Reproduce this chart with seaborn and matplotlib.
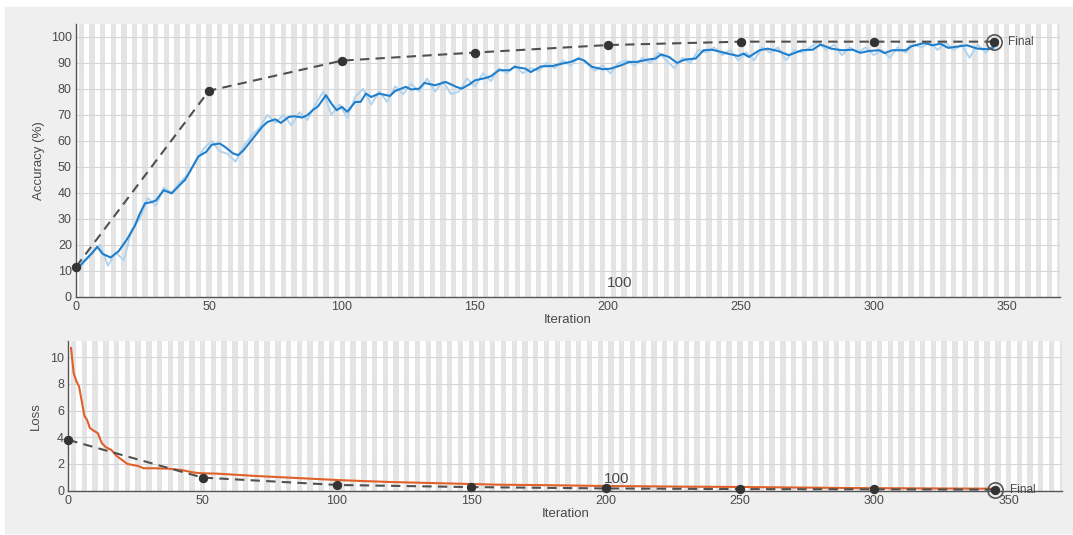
import matplotlib
matplotlib.use("Agg")
import matplotlib.pyplot as plt
import seaborn as sns
from matplotlib.patches import Rectangle

# training accuracy, smoothed curve
acc_iter = [0, 3, 6, 8, 10, 13, 16, 19, 22, 24,
            26, 28, 30, 33, 36, 39, 41, 43, 46, 49,
            51, 54, 56, 59, 61, 63, 66, 68, 70, 72,
            75, 77, 80, 82, 85, 87, 89, 91, 94, 96,
            98, 100, 102, 105, 107, 109, 111, 114, 118, 120,
            124, 126, 129, 131, 135, 139, 143, 145, 148, 150,
            154, 156, 159, 163, 165, 169, 171, 175, 179, 183,
            186, 189, 191, 194, 198, 201, 205, 208, 211, 215,
            218, 220, 223, 226, 229, 233, 236, 239, 242, 245,
            249, 251, 253, 257, 260, 264, 268, 273, 277, 280,
            284, 288, 292, 295, 298, 302, 304, 307, 312, 314,
            319, 322, 325, 328, 332, 335, 339, 343, 345]
acc_smooth = [10.3, 13.5, 16.7, 19.2, 16.5, 15.1, 17.5, 21.8, 27.0, 32.0,
              36.0, 36.3, 37.0, 41.0, 39.8, 43.0, 45.0, 48.5, 54.0, 55.8,
              58.5, 59.0, 57.7, 55.2, 54.5, 56.4, 60.3, 62.8, 65.4, 67.3,
              68.3, 66.9, 69.2, 69.5, 69.0, 69.9, 71.8, 73.3, 77.6, 74.4,
              71.8, 73.1, 71.2, 75.0, 75.0, 78.2, 76.9, 78.2, 77.3, 79.2,
              80.8, 79.8, 80.1, 82.3, 81.4, 82.7, 80.8, 80.1, 81.8, 83.3,
              84.2, 84.9, 87.2, 87.2, 88.5, 87.8, 86.5, 88.7, 88.8, 89.8,
              90.4, 91.7, 91.0, 88.5, 87.6, 87.8, 89.1, 90.4, 90.4, 91.3,
              91.7, 93.3, 92.3, 90.0, 91.3, 91.7, 94.9, 95.1, 94.4, 93.6,
              92.7, 93.6, 92.3, 94.9, 95.5, 94.6, 93.0, 94.9, 95.1, 97.1,
              95.5, 94.9, 95.1, 93.9, 94.6, 94.9, 93.8, 94.9, 94.9, 96.4,
              97.7, 96.8, 97.4, 95.8, 96.4, 96.8, 95.5, 95.3, 95.9]

# training accuracy, raw (every 3rd iteration)
raw_iter = list(range(0, 346, 3))
acc_raw = [9, 14, 17, 20, 12, 17, 14, 26, 30, 38,
           35, 42, 40, 44, 47, 52, 57, 60, 56, 55,
           52, 58, 62, 65, 70, 67, 70, 66, 71, 68,
           74, 79, 70, 74, 69, 77, 80, 74, 79, 75,
           81, 78, 82, 79, 84, 79, 83, 78, 79, 84,
           81, 86, 83, 88, 86, 89, 86, 88, 87, 90,
           88, 91, 89, 92, 90, 87, 89, 86, 90, 91,
           89, 92, 90, 94, 91, 88, 92, 90, 95, 94,
           96, 93, 95, 91, 94, 91, 96, 94, 96, 91,
           95, 94, 96, 98, 95, 97, 93, 96, 94, 96,
           93, 95, 92, 96, 94, 97, 96, 98, 95, 98,
           95, 97, 92, 97, 94, 97]

# training loss, smoothed
loss_iter = [1, 2, 3, 4, 5, 6, 7, 8, 9, 11, 12.5, 14, 16, 18, 20, 22,
             26, 28, 32, 37, 42, 47, 50, 55, 60, 70, 80, 90, 100,
             110, 120, 130, 140, 150, 160, 175, 190, 200, 215, 230,
             250, 270, 290, 310, 330, 345]
loss_smooth = [10.7, 8.8, 8.2, 7.8, 6.7, 5.6, 5.3, 4.7, 4.55, 4.3, 3.55, 3.25, 3.05, 2.6, 2.3, 2.0,
               1.85, 1.68, 1.68, 1.65, 1.55, 1.35, 1.3, 1.28, 1.22, 1.1, 1.0, 0.9, 0.8,
               0.72, 0.65, 0.6, 0.55, 0.5, 0.45, 0.42, 0.38, 0.35, 0.33, 0.3,
               0.28, 0.24, 0.2, 0.18, 0.16, 0.15]

# validation
val_iter = [0, 50, 100, 150, 200, 250, 300, 345]
val_acc = [11.5, 79.3, 90.9, 94.0, 96.9, 98.2, 98.2, 98.2]
val_loss = [3.8, 0.98, 0.43, 0.27, 0.17, 0.12, 0.1, 0.08]

acc_ticks = [0, 10, 20, 30, 40, 50, 60, 70, 80, 90, 100]
loss_ticks = [0, 2, 4, 6, 8, 10]
x_ticks = [0, 50, 100, 150, 200, 250, 300, 350]

sns.set_theme(style="white")
plt.rcParams["font.family"] = ["Liberation Sans", "DejaVu Sans"]

TXT = "#4a4a4a"
fig = plt.figure(figsize=(10.73, 5.35), dpi=100, facecolor="white")
fig.patches.append(Rectangle((5 / 1073, 2 / 535), 1068 / 1073, 526 / 535,
                             transform=fig.transFigure, color="#efefef", zorder=-10))

ax1 = fig.add_axes([76 / 1073, 1 - 296.7 / 535, 984 / 1073, 272.7 / 535])
ax2 = fig.add_axes([68.3 / 1073, 1 - 490.7 / 535, 994 / 1073, 149.7 / 535])


def style_axes(ax, yticks, ylim):
    ax.set_facecolor("white")
    ax.set_xlim(0, 370)
    ax.set_ylim(*ylim)
    for k in range(0, 370, 4):
        ax.axvspan(k + 1, k + 3, color="#e4e4e4", lw=0, zorder=0)
    for t in yticks:
        ax.axhline(t, color="#d6d6d6", lw=0.8, zorder=0.5)
    ax.set_xticks(x_ticks)
    ax.set_yticks(yticks)
    for s in ["top", "right"]:
        ax.spines[s].set_visible(False)
    for s in ["left", "bottom"]:
        ax.spines[s].set_color("#555555")
        ax.spines[s].set_linewidth(1.0)
    ax.tick_params(direction="in", length=6, width=0.8, color="#444444",
                   labelcolor=TXT, labelsize=9, pad=3)
    ax.set_xlabel("Iteration", color=TXT, fontsize=9.5, labelpad=1)


style_axes(ax1, acc_ticks, (0, 105))
style_axes(ax2, loss_ticks, (0, 11.2))

# accuracy
sns.lineplot(x=raw_iter, y=acc_raw, ax=ax1, color="#b3d4ee", lw=1.4, zorder=1, estimator=None)
sns.lineplot(x=acc_iter, y=acc_smooth, ax=ax1, color="#1f7fcc", lw=1.5, zorder=2, estimator=None)
sns.lineplot(x=val_iter, y=val_acc, ax=ax1, color="#505050", lw=1.5, linestyle=(0, (4.5, 3)),
             marker="o", markersize=6, markerfacecolor="#333333", markeredgecolor="#333333",
             zorder=3, estimator=None, clip_on=False)
ax1.plot(val_iter[-1], val_acc[-1], "o", ms=11, mfc="none", mec="#555555", mew=1.2, zorder=4)
ax1.text(350.5, val_acc[-1], "Final", color=TXT, fontsize=8.5, va="center", ha="left")
ax1.text(199.5, 5.3, "100", color=TXT, fontsize=11, va="center", ha="left")
ax1.set_ylabel("Accuracy (%)", color=TXT, fontsize=9.5, labelpad=4)

# loss
sns.lineplot(x=loss_iter, y=loss_smooth, ax=ax2, color="#e0602a", lw=1.5, zorder=2, estimator=None)
sns.lineplot(x=val_iter, y=val_loss, ax=ax2, color="#505050", lw=1.5, linestyle=(0, (4.5, 3)),
             marker="o", markersize=6, markerfacecolor="#333333", markeredgecolor="#333333",
             zorder=3, estimator=None, clip_on=False)
ax2.plot(val_iter[-1], val_loss[-1], "o", ms=11, mfc="none", mec="#555555", mew=1.2, zorder=4,
         clip_on=False)
ax2.text(350.5, 0.05, "Final", color=TXT, fontsize=8.5, va="center", ha="left")
ax2.text(199.5, 0.9, "100", color=TXT, fontsize=11, va="center", ha="left")
ax2.set_ylabel("Loss", color=TXT, fontsize=9.5, labelpad=6)

fig.savefig("out.png", dpi=100, facecolor=fig.get_facecolor())
